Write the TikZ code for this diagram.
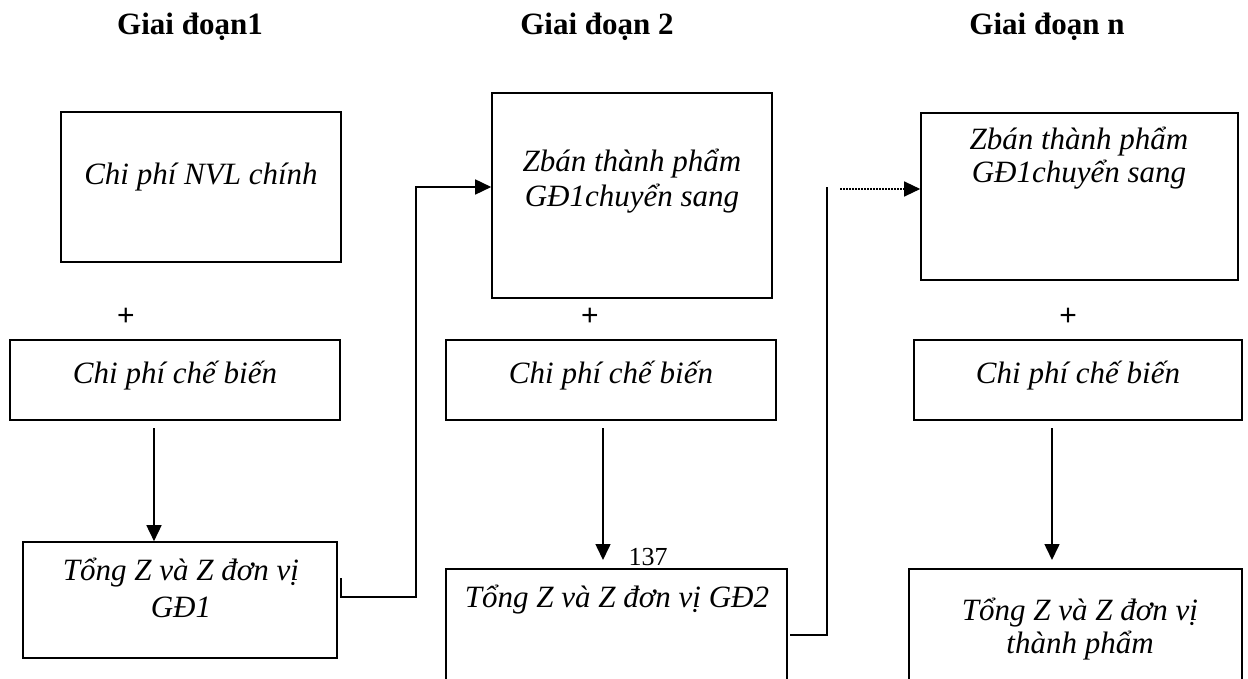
\documentclass[tikz,border=0pt]{standalone}
\usepackage{fontspec}
\setmainfont{Liberation Serif}
\newfontfamily\plusfont{Liberation Sans}
\usetikzlibrary{arrows.meta}
\begin{document}
\begin{tikzpicture}[x=1pt,y=-1pt,
  box/.style={draw,line width=1.6pt,inner sep=0pt},
  txt/.style={anchor=base,inner sep=0pt,font=\fontsize{31}{37}\selectfont\itshape},
  hdr/.style={anchor=base,inner sep=0pt,font=\fontsize{31}{37}\selectfont\bfseries},
  num/.style={anchor=base,inner sep=0pt,font=\fontsize{26}{30}\selectfont},
  pl/.style={inner sep=0pt,font=\plusfont\fontsize{30}{34}\selectfont},
  arr/.style={line width=1.6pt,-{Triangle[width=15pt,length=16pt]}},
  conn/.style={line width=1.6pt},
  dotline/.style={line width=1.2pt,dash pattern=on 1.5pt off 1.5pt}]
\clip (0,0) rectangle (1248,679);
\fill[white] (0,0) rectangle (1248,679);

% headers
\node[hdr] (h1) at (190,35) {Giai đoạn1};
\node[hdr] (h2) at (597,35) {Giai đoạn 2};
\node[hdr] (h3) at (1047,35) {Giai đoạn n};

% boxes
\node[box,minimum width=280pt,minimum height=150pt] (A) at (201,187) {};
\node[box,minimum width=280pt,minimum height=205pt] (B) at (632,195.5) {};
\node[box,minimum width=317pt,minimum height=167pt] (C) at (1079.5,196.5) {};
\node[box,minimum width=330pt,minimum height=80pt] (D) at (175,380) {};
\node[box,minimum width=330pt,minimum height=80pt] (E) at (611,380) {};
\node[box,minimum width=328pt,minimum height=80pt] (F) at (1078,380) {};
\node[box,minimum width=314pt,minimum height=116pt] (G) at (180,600) {};
\node[box,minimum width=341pt,minimum height=151pt] (H) at (616.5,644.5) {};
\node[box,minimum width=333pt,minimum height=151pt] (I) at (1075.5,644.5) {};

% texts
\node[txt] (tA) at (201,185) {Chi phí NVL chính};
\node[txt] (tB1) at (632,172) {Zbán thành phẩm};
\node[txt] (tB2) at (632,207) {GĐ1chuyển sang};
\node[txt] (tC1) at (1079,150) {Zbán thành phẩm};
\node[txt] (tC2) at (1079,183) {GĐ1chuyển sang};
\node[txt] (tD) at (175,383) {Chi phí chế biến};
\node[txt] (tE) at (611,383) {Chi phí chế biến};
\node[txt] (tF) at (1078,383) {Chi phí chế biến};
\node[txt] (tG1) at (181,580) {Tổng Z và Z đơn vị};
\node[txt] (tG2) at (181,617) {GĐ1};
\node[txt] (tH) at (617,607) {Tổng Z và Z đơn vị GĐ2};
\node[txt] (tI1) at (1080,620) {Tổng Z và Z đơn vị};
\node[txt] (tI2) at (1080,653) {thành phẩm};
\node[num] (n137) at (648,565) {137};

% plus signs
\node[pl] (p1) at (126,317) {+};
\node[pl] (p2) at (590,317) {+};
\node[pl] (p3) at (1068,317) {+};

% vertical arrows
\coordinate (d1) at (154,428);
\draw[arr] (d1) -- (d1 |- G.north);
\coordinate (e1) at (603,428);
\coordinate (e2) at (603,560);
\draw[arr] (e1) -- (e2);
\coordinate (f1) at (1052,428);
\coordinate (f2) at (1052,560);
\draw[arr] (f1) -- (f2);

% G -> B connector
\coordinate (g0) at (341,578);
\coordinate (g1) at (416,187);
\draw[arr] (g0) -- (341,597) -- (416,597) -- (g1) -- (g1 -| B.west);

% H -> C connector
\coordinate (k0) at (790,635);
\coordinate (k1) at (827,187);
\draw[conn] (k0) -- (827,635) -- (k1);
\coordinate (c0) at (840,189);
\draw[arr,dotline] (c0) -- (c0 -| C.west);
\end{tikzpicture}
\end{document}
